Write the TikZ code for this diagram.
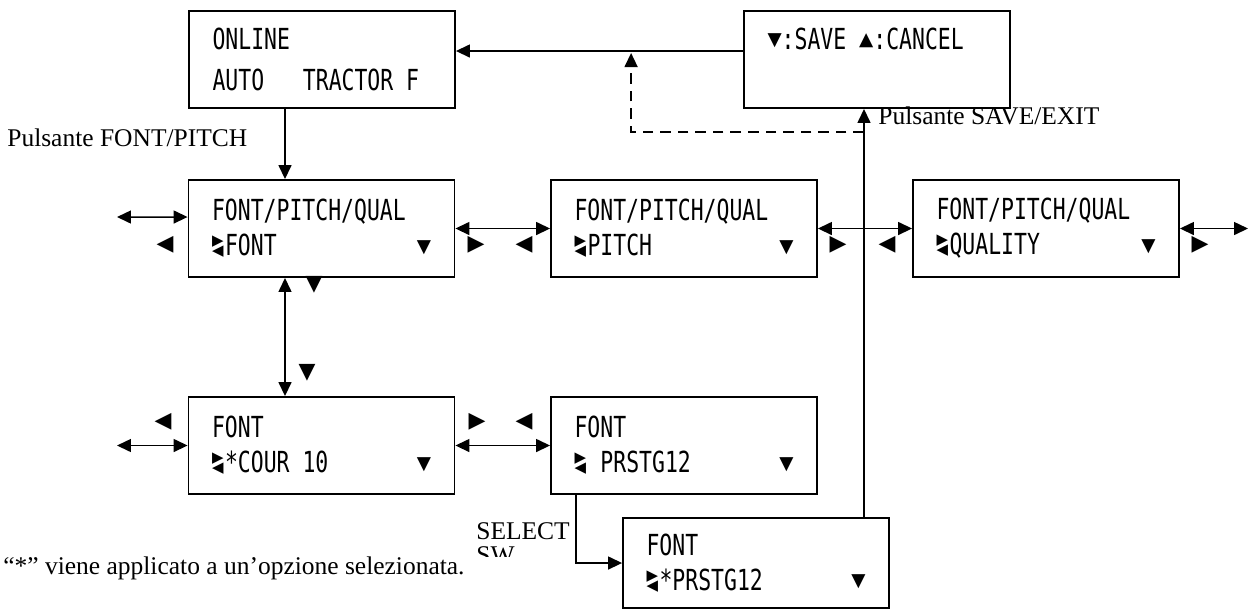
\documentclass[tikz,border=0pt]{standalone}
\usepackage{fontspec}
\setmainfont{Liberation Serif}
\newfontfamily\lcdfont{DejaVu Sans Mono}[FakeStretch=0.74]
\newfontfamily\symfont{DejaVu Sans}
\usetikzlibrary{arrows.meta, positioning}

\newcommand{\dnmark}{\raisebox{2pt}{\symfont\fontsize{10.5}{10.5}\selectfont ▼}}
\newcommand{\upmark}{\raisebox{2pt}{\symfont\fontsize{10.5}{10.5}\selectfont ▲}}
\newcommand{\curmark}{\makebox[7.4pt][l]{\raisebox{5.6pt}{\symfont\fontsize{8.5}{8.5}\selectfont ▶}\llap{\symfont\fontsize{8.5}{8.5}\selectfont ◀}}}
\newcommand{\blank}{\phantom{X}}

\begin{document}
\begin{tikzpicture}[x=0.02cm, y=-0.02cm,
  box/.style={draw=black, line width=1.1pt, minimum width=5.32cm,
              minimum height=1.94cm, text width=4.38cm, align=left,
              font=\lcdfont\fontsize{16.5}{19.8}\selectfont},
  arr/.style={-{Triangle[length=0.28cm, width=0.26cm]}, line width=0.85pt},
  darr/.style={{Triangle[length=0.28cm, width=0.26cm]}-{Triangle[length=0.28cm, width=0.26cm]},
               line width=0.85pt},
  dasharr/.style={arr, dash pattern=on 6pt off 4pt},
  lbl/.style={font=\fontsize{14.5}{16}\selectfont, inner sep=0pt},
  tri/.style={font=\symfont\fontsize{12.5}{12.5}\selectfont, inner sep=0pt}
]
  \useasboundingbox (0,0) rectangle (1250,610);

  % ========== TOP: status + save ==========
  \node[box] (online) at (322,59.5) {ONLINE\\[4pt]AUTO\blank\blank\blank TRACTOR\blank F};
  \node[box] (savebox) at (877,59.5) {\dnmark:SAVE\blank\upmark:CANCEL\\[4pt]\mbox{}};

  % ========== ROW 2: FONT/PITCH/QUAL ==========
  \node[box] (fpqfont) at (321.5,228.5) {FONT/PITCH/QUAL\\\curmark FONT\hfill\dnmark};
  \node[box] (fpqpitch) at (684,228.5) {FONT/PITCH/QUAL\\\curmark PITCH\hfill\dnmark};
  \node[box] (fpqqual) at (1046,228.5) {FONT/PITCH/QUAL\\\curmark QUALITY\hfill\dnmark};

  % ========== ROW 3: FONT options ==========
  \node[box] (fontcour) at (321.5,445.5) {FONT\\\curmark*COUR\blank 10\hfill\dnmark};
  \node[box] (fontprstg) at (684,445.5) {FONT\\\curmark\blank PRSTG12\hfill\dnmark};
  \node[box, minimum height=1.8cm] (fontsel) at (756,563) {FONT\\\curmark*PRSTG12\hfill\dnmark};

  % ======== helper coordinates ========
  \coordinate (fpx) at (285,0);
  \coordinate (exitx) at (864,0);
  \coordinate (selx) at (576,0);
  \coordinate (leftr2) at (117,217);
  \coordinate (rightr2) at (1248,228.5);
  \coordinate (leftr3) at (117,445.5);
  \coordinate (dturn) at (864,132);

  % ======== ARROWS: top ========
  \draw[arr] ([yshift=0.17cm]savebox.west) -- ([yshift=0.17cm]online.east)
    coordinate[pos=0.39] (dtip);
  \draw[arr] (online.south -| fpx) -- (fpqfont.north -| fpx);
  \draw[arr] (fontsel.north -| exitx) -- (savebox.south -| exitx);
  \draw[dasharr] (dturn) -| ([yshift=-0.04cm]dtip);

  % ======== ARROWS: row 2 ========
  \draw[darr] (leftr2) -- ([yshift=0.23cm]fpqfont.west);
  \draw[darr] (fpqfont.east) -- (fpqpitch.west);
  \draw[darr] (fpqpitch.east) -- (fpqqual.west);
  \draw[darr] (fpqqual.east) -- (rightr2);

  % ======== ARROWS: row 2 <-> row 3 ========
  \draw[darr] (fpqfont.south -| fpx) -- (fontcour.north -| fpx);
  \draw[darr] (leftr3) -- (fontcour.west);
  \draw[darr] (fontcour.east) -- (fontprstg.west);
  \draw[arr] (fontprstg.south -| selx) |- (fontsel.west);

  % ======== key marks ========
  \node[tri] (k1) at (165,245) {◀};
  \node[tri] (k2) at (476,245) {▶};
  \node[tri] (k3) at (524,245) {◀};
  \node[tri] (k4) at (838,245) {▶};
  \node[tri] (k5) at (887,245) {◀};
  \node[tri] (k6) at (1200,245) {▶};
  \node[tri] (k7) at (314,285) {▼};
  \node[tri] (k8) at (307,373) {▼};
  \node[tri] (k9) at (163,422) {◀};
  \node[tri] (k10) at (477,422) {▶};
  \node[tri] (k11) at (524,422) {◀};

  % ======== labels ========
  \node[lbl, anchor=west] (fpbtn) at (7,138) {Pulsante FONT/PITCH};
  \node[lbl, anchor=west] (sebtn) at (878,116) {Pulsante SAVE/EXIT};
  \begin{scope}
    \clip (460,505) rectangle (574,556);
    \node[lbl, anchor=north west, align=left] (selsw) at (476,522) {SELECT\\[-2pt]SW};
  \end{scope}
  \node[lbl, anchor=west] (note) at (3,568) {“*” viene applicato a un’opzione selezionata.};

\end{tikzpicture}
\end{document}
